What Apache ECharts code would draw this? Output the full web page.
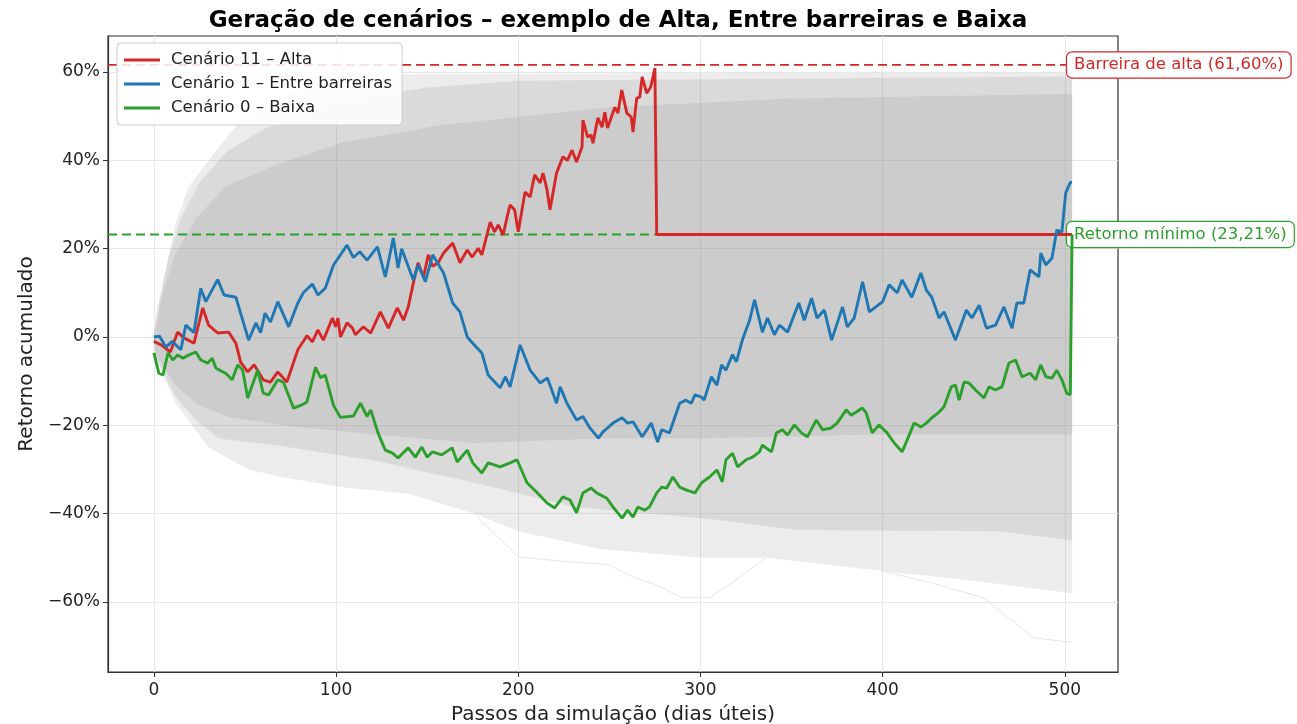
<!DOCTYPE html>
<html>
<head>
<meta charset="utf-8">
<script src="https://cdn.jsdelivr.net/npm/echarts@6/dist/echarts.min.js"></script>
<style>html,body{margin:0;padding:0;background:#fff}#chart{width:1297px;height:724px}</style>
</head>
<body>
<div id="chart"></div>
<script>
// dados: [passo, retorno acumulado em %]
var cenarioAlta = [[0,-1],[4,-1.8],[9,-3.4],[13,1.1],[16.5,-0.2],[22,-1.4],[26.8,6.6],[30,2.7],[35,0.9],[41,1.1],[45,-1.4],[47.6,-5.7],[51.5,-7.9],[55,-6.3],[60,-9.7],[64,-10.2],[68,-7.9],[73,-10.2],[79,-2.9],[84,0.3],[87,-1.1],[90,1.6],[93,-0.7],[98,4.3],[99.7,2.3],[101,4.3],[102.4,0],[106,3.2],[109,2],[110.6,0.5],[115,2.3],[119,0.9],[124.3,5.7],[128.7,2],[133.6,6.6],[137,3.8],[139.6,6.8],[142.4,12.2],[145,16.8],[148,13.6],[150.6,18.6],[153,16],[156,16.8],[159,19],[164,21.3],[168,16.8],[172,19.7],[174.7,18.1],[178,20.1],[180,18.6],[184.6,26],[187,23.8],[189,25.4],[191.7,23.1],[193.9,27.2],[195.5,29.9],[198,28.8],[200,23.8],[203.7,32.8],[206.5,31.7],[209,36.7],[212,34.9],[213.6,37.1],[215.8,33.3],[217.4,28.8],[221,37.1],[224.5,40.8],[227,40],[229.5,42.3],[232,39.6],[235,43],[235.5,49.1],[238,45.3],[240,45.7],[241,43.9],[243.7,49.6],[246,47.5],[247.5,50.9],[249,47.3],[253,52],[254.7,50.7],[256.8,55.9],[259.6,50.7],[262,49.8],[263,46.4],[265,54.1],[266.7,54.3],[268,58.9],[270.5,55.2],[272.7,56.6],[275,60.9],[276,23.21],[504,23.21]];
var cenarioEntre = [[0,0],[3,0.2],[6.6,-2.3],[10,-1],[14.8,-2.9],[17.5,2.7],[22,1],[25.7,11],[28.5,8],[35,13],[38.5,9.5],[45,9],[52,-0.7],[56,3.2],[58.6,1],[61,5.4],[64,3.4],[68,8],[74,2.3],[79,7.7],[82,10],[87,12],[90,9.5],[94,11],[98.6,16.3],[106,20.8],[109.5,18],[113,19.3],[117,17.4],[122.7,20.4],[127,13.6],[131.4,22.4],[134,15.6],[136,20],[142.4,12.9],[145,16.3],[149,12.5],[153,18.6],[159,14.5],[164,7.7],[168,5.7],[172,0],[175,-1.4],[180,-3.6],[183.5,-8.6],[190,-11.5],[193,-9],[195.5,-11.3],[201,-1.8],[206.5,-7.5],[212,-10.4],[216,-9.3],[221,-15],[223,-11.3],[226.7,-15],[232,-18.8],[235.5,-18],[239,-20.4],[244,-22.9],[246.5,-21.5],[252,-19.5],[257,-18.3],[260,-19.5],[263,-19.2],[268,-22.6],[273,-19.5],[276.5,-23.8],[278.7,-21],[283,-21.7],[288.6,-15],[292,-14.3],[295,-15],[297,-13.1],[300.6,-13.6],[302,-14.3],[306,-9],[309,-10.9],[311.6,-6.3],[314,-7.5],[317.6,-4],[319.8,-5.6],[323,-0.7],[327,3.8],[329.7,8.4],[332.4,3.8],[334,1.1],[336.8,4.3],[340.6,0.5],[343.4,2.7],[347.8,1.1],[354,7.7],[357,3.8],[361,8.8],[364,4.3],[368,6.1],[372,-0.7],[378,6.8],[380.6,2.3],[384.4,4.3],[389,12.5],[392.7,5.7],[400,8],[403.6,11.8],[408,10],[410.7,12.9],[416,9],[421,14.5],[424,10.6],[427,9],[431,4.3],[433.7,5.7],[440,-0.7],[446,6.1],[449,4.3],[453,7.2],[457,2],[462,2.7],[466.6,6.8],[471,2],[473.7,7.7],[477.5,7.7],[481,15.2],[485.8,13.6],[486.8,19],[489.6,16.3],[493,17.9],[495.6,24.2],[498.4,23.8],[500.5,32.6],[503,35],[504,35]];
var cenarioBaixa = [[0,-3.6],[2.7,-8.2],[5,-8.6],[7.7,-3.6],[10.4,-5.2],[13,-4.1],[16,-4.8],[19,-4.1],[23,-3.4],[25.7,-5.2],[29.6,-5.9],[32,-4.8],[34,-7],[37.8,-7.9],[39.4,-8.2],[43,-9.7],[46,-6.3],[48.7,-7.5],[51.5,-13.8],[54,-10.9],[57,-7.5],[60,-12.7],[63,-13.1],[68,-9.7],[71,-10.2],[76.7,-16.1],[80.5,-15.5],[84,-14.7],[88.7,-6.9],[91.5,-9.2],[94,-8.6],[98.6,-15.5],[102.4,-18.2],[109.5,-17.9],[113.4,-15],[117,-18],[119,-16.5],[123,-21.7],[127,-25.6],[131,-26.3],[134,-27.4],[139.6,-25.1],[143.5,-27.2],[147,-24.9],[150,-27.2],[153,-26],[158,-26.7],[163.7,-25.1],[166.5,-28.3],[172,-25.6],[175,-28.5],[180,-30.8],[183.5,-28.5],[190,-29.4],[195.5,-28.5],[199.3,-27.8],[204.8,-33],[210,-35.1],[215.8,-37.6],[220,-38.7],[224.5,-36.2],[228.4,-36.9],[232,-39.8],[235.5,-35.3],[240,-34.2],[243,-35.3],[248.6,-36.5],[252,-38.5],[257,-41],[260,-39.2],[263,-40.8],[265.6,-38.5],[269.4,-39.2],[272,-38.5],[276,-35.3],[278.7,-34],[281.5,-34.2],[284.8,-31.7],[288.6,-34],[292,-34.6],[297,-35.3],[300.6,-33],[305,-31.7],[309,-30.1],[312,-32.8],[314,-27.8],[317.6,-26.3],[320.4,-29.4],[325,-27.8],[328.6,-27.2],[332.4,-26],[334,-24.5],[339,-26],[341.7,-21.7],[345,-21],[347.8,-22.2],[351.6,-19.9],[355.4,-21.7],[358.7,-22.6],[363.6,-18.8],[367,-21],[371.8,-20.6],[375,-19.5],[380,-16.5],[382.8,-17.7],[385.5,-17],[389,-16.1],[391,-17.2],[394.3,-21.7],[398,-19.9],[402,-21.5],[406.4,-24],[410.7,-26],[413.5,-23.3],[417.3,-19.5],[421,-20.4],[424,-19.5],[427,-18.3],[431,-17],[433.7,-15.8],[437.6,-11.3],[440,-10.9],[442,-14.3],[444.7,-10.2],[447.4,-10.4],[451,-12],[455.6,-13.8],[458.4,-11.3],[462,-12],[465.5,-11.3],[469.3,-5.9],[473,-5.2],[476.5,-9],[481,-8.2],[484,-9.7],[486.8,-6.3],[489.6,-9],[493,-9.3],[495.6,-7.5],[498.4,-9.7],[501,-12.7],[503,-13.1],[504,23.21]];

var barreiraAlta = 61.60;
var retornoMinimo = 23.21;
var passoFinal = 504;

// nuvem cinza dos demais cenários (contornos)
var nuvemTopoClaro = [[0,0],[1,5],[6.6,15.4],[12,25.8],[19,34],[30,40],[45,47.8],[54,50.7],[85,57],[140,59.5],[300,59.8],[504,59.8]];
var nuvemTopoMedio = [[0,0],[3,8],[8,18],[15,27],[25,35],[40,42],[60,47],[100,53],[150,56.5],[200,58],[504,59]];
var nuvemTopoDenso = [[0,0],[4.4,9.3],[12,19],[23,26.7],[39,34],[67,39],[103,44],[158,48],[250,52],[350,54],[504,55]];
var nuvemBaseDensa = [[0,-1],[1,-4],[12,-11],[23,-15],[40,-18],[70,-20],[120,-22],[176,-24],[245,-23],[300,-23],[400,-22],[504,-22]];
var nuvemBaseMedia = [[0,-1],[1,-4.5],[12,-13.6],[23,-18.8],[35.6,-23],[67,-24.5],[121.6,-28],[176,-33],[231,-38.5],[300,-41],[354,-43.7],[464,-44],[504,-46]];
var nuvemBaseClara = [[0,-1],[1,-5],[12,-15],[30,-25],[52,-30],[70,-31.7],[103,-34],[140,-35.5],[176,-40],[200,-44],[245,-48],[300,-50],[336,-50],[400,-53],[446,-55],[504,-58]];
var caminhoExtremo1 = [[176,-40],[200,-49.8],[230,-51],[249,-51.5],[263,-54.3],[275,-56],[290,-59],[305,-59],[314,-56.6],[336,-50]];
var caminhoExtremo2 = [[400,-53],[427,-55.7],[455,-59],[473,-64.8],[482,-68],[500,-69],[504,-69]];

var ticksX = [0, 100, 200, 300, 400, 500];
var ticksY = [-60, -40, -20, 0, 20, 40, 60];

var fonte = 'DejaVu Sans';
var vermelho = '#d62728', azul = '#1f77b4', verde = '#2ca02c';

function faixa(topo, base, cor) {
    return {
        type: 'custom', silent: true, z: 1, clip: true,
        data: [[0, 0]],
        renderItem: function (params, api) {
            var pts = [];
            topo.forEach(function (p) { pts.push(api.coord(p)); });
            base.slice().reverse().forEach(function (p) { pts.push(api.coord(p)); });
            return { type: 'polygon', shape: { points: pts }, style: { fill: cor } };
        }
    };
}

function linhaNivel(nivel, cor, texto) {
    return {
        type: 'line', silent: true, z: 3, showSymbol: false,
        data: [[-25.2, nivel], [passoFinal, nivel]],
        lineStyle: { color: cor, width: 1.8, type: [9, 5] },
        endLabel: {
            show: true, formatter: texto, distance: -5,
            color: cor, fontFamily: fonte, fontSize: 16.5,
            backgroundColor: '#fff', borderColor: cor, borderWidth: 1.2, borderRadius: 5,
            padding: [4, 7, 4, 7]
        }
    };
}

function cenario(nome, dados, cor) {
    return {
        name: nome, type: 'line', z: 5, showSymbol: false, data: dados,
        lineStyle: { color: cor, width: 2.9 }, itemStyle: { color: cor }
    };
}

function pct(v) {
    return (v < 0 ? '\u2212' + (-v) : v) + '%';
}

var chart = echarts.init(document.getElementById('chart'));
chart.setOption({
    animation: false,
    backgroundColor: '#fff',
    title: {
        text: 'Geração de cenários – exemplo de Alta, Entre barreiras e Baixa',
        left: 613, top: 5, textAlign: 'center',
        textStyle: { fontFamily: fonte, fontSize: 23, fontWeight: 'bold', color: '#000' }
    },
    legend: {
        data: ['Cenário 11 – Alta', 'Cenário 1 – Entre barreiras', 'Cenário 0 – Baixa'],
        orient: 'vertical', left: 117, top: 43,
        padding: [8, 10, 8, 7], itemGap: 6,
        itemWidth: 36, itemHeight: 3, icon: 'rect',
        backgroundColor: 'rgba(255,255,255,0.85)', borderColor: '#cccccc', borderWidth: 1, borderRadius: 4,
        textStyle: { fontFamily: fonte, fontSize: 16.5, color: '#222', lineHeight: 18, padding: [0, 0, 0, 6] }
    },
    grid: {
        left: 108, top: 36, right: 179, bottom: 52, outerBoundsMode: 'none', containLabel: false,
        show: true, borderColor: '#333', borderWidth: 1.2, backgroundColor: 'transparent'
    },
    xAxis: {
        type: 'value', min: -25.2, max: 529.2, splitNumber: 5,
        name: 'Passos da simulação (dias úteis)', nameLocation: 'middle', nameGap: 33,
        nameTextStyle: { fontFamily: fonte, fontSize: 20, color: '#222' },
        axisLine: { show: true, onZero: false, lineStyle: { color: '#333', width: 1.2 } },
        axisTick: { show: true, length: 5, customValues: ticksX, lineStyle: { color: '#333' } },
        axisLabel: { customValues: ticksX, margin: 10, fontFamily: fonte, fontSize: 17, color: '#222' },
        splitLine: { show: true, lineStyle: { color: '#e6e6e6', width: 1 } }
    },
    yAxis: {
        type: 'value', min: -75.85, max: 68.15, splitNumber: 7,
        name: 'Retorno acumulado', nameLocation: 'middle', nameGap: 69, nameRotate: 90,
        nameTextStyle: { fontFamily: fonte, fontSize: 20, color: '#222' },
        axisLine: { show: true, onZero: false, lineStyle: { color: '#333', width: 1.2 } },
        axisTick: { show: true, length: 5, customValues: ticksY, lineStyle: { color: '#333' } },
        axisLabel: { customValues: ticksY, margin: 8, fontFamily: fonte, fontSize: 17, color: '#222', formatter: pct },
        splitLine: { show: true, lineStyle: { color: '#e6e6e6', width: 1 } }
    },
    series: [
        faixa(nuvemTopoClaro, nuvemBaseClara, 'rgba(150,150,150,0.18)'),
        faixa(nuvemTopoMedio, nuvemBaseMedia, 'rgba(150,150,150,0.21)'),
        faixa(nuvemTopoDenso, nuvemBaseDensa, 'rgba(150,150,150,0.2)'),
        { type: 'line', silent: true, z: 2, showSymbol: false, data: caminhoExtremo1, lineStyle: { color: '#e6e6e6', width: 1 } },
        { type: 'line', silent: true, z: 2, showSymbol: false, data: caminhoExtremo2, lineStyle: { color: '#e6e6e6', width: 1 } },
        linhaNivel(barreiraAlta, vermelho, 'Barreira de alta (61,60%)'),
        linhaNivel(retornoMinimo, verde, 'Retorno mínimo (23,21%)'),
        cenario('Cenário 11 – Alta', cenarioAlta, vermelho),
        cenario('Cenário 1 – Entre barreiras', cenarioEntre, azul),
        cenario('Cenário 0 – Baixa', cenarioBaixa, verde)
    ]
});
</script>
</body>
</html>
